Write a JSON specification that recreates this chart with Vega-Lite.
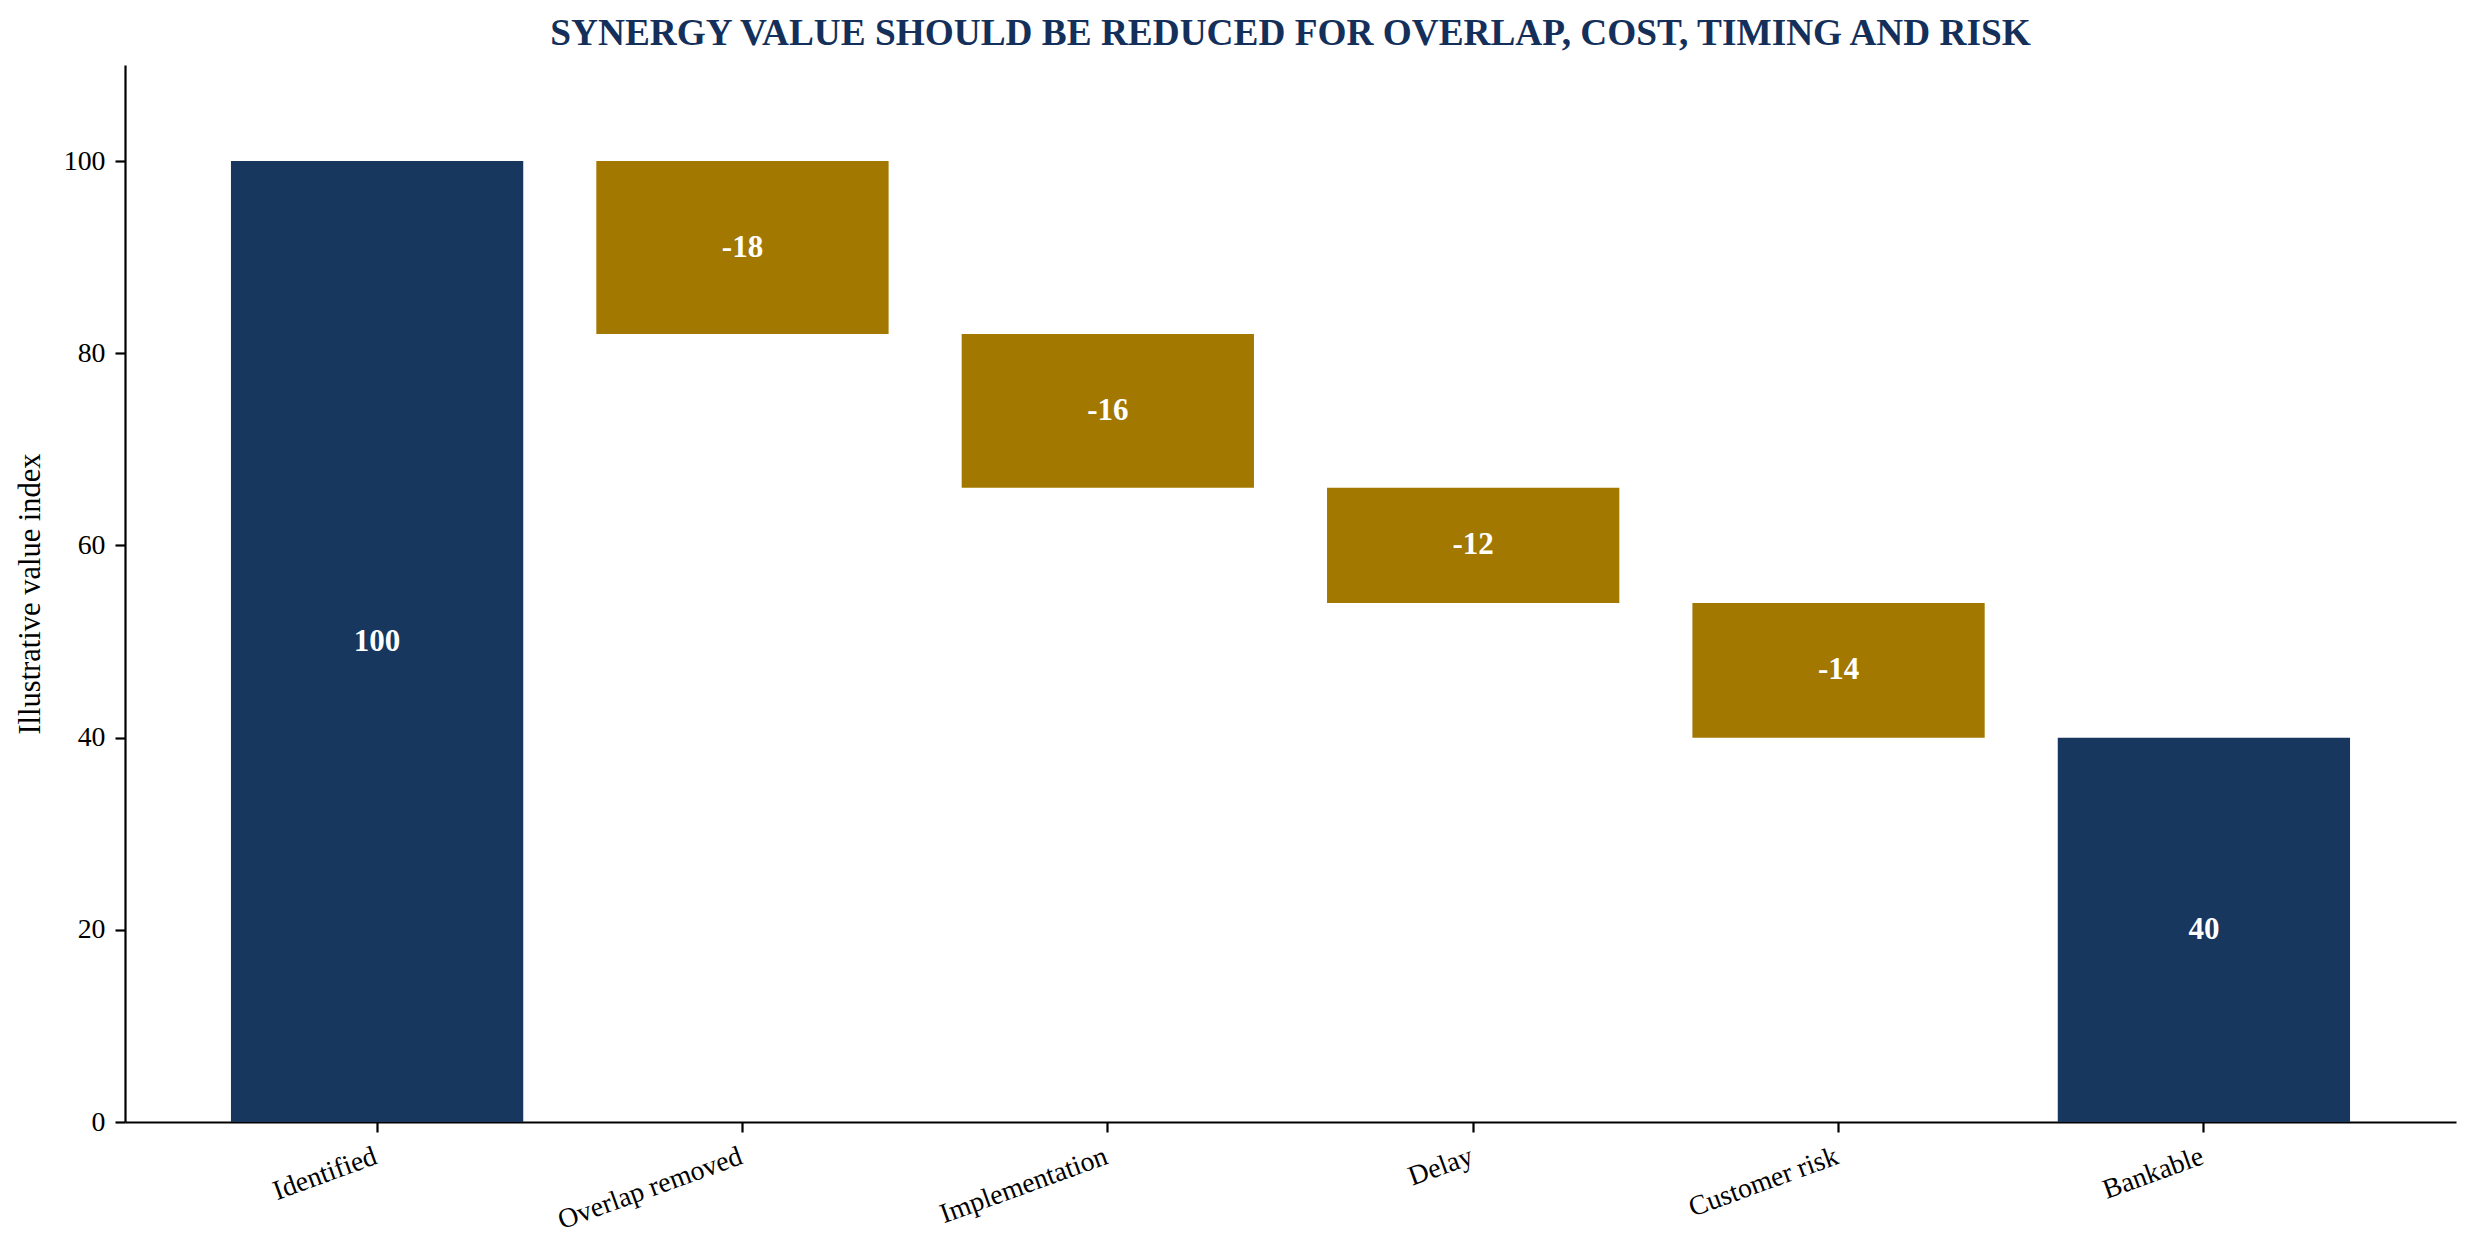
{
  "$schema": "https://vega.github.io/schema/vega-lite/v6.json",
  "width": 2331,
  "height": 1057,
  "autosize": {"type": "none"},
  "padding": {"left": 125, "top": 65, "right": 25, "bottom": 128},
  "background": "white",
  "title": {
    "text": "SYNERGY VALUE SHOULD BE REDUCED FOR OVERLAP, COST, TIMING AND RISK",
    "font": "Liberation Serif",
    "fontSize": 37.3,
    "fontWeight": "bold",
    "color": "#14305A",
    "anchor": "middle",
    "offset": 12
  },
  "data": {
    "values": [
      {"stage": "Identified", "kind": "total", "value": 100, "start": 0, "end": 100},
      {"stage": "Overlap removed", "kind": "change", "value": -18, "start": 100, "end": 82},
      {"stage": "Implementation", "kind": "change", "value": -16, "start": 82, "end": 66},
      {"stage": "Delay", "kind": "change", "value": -12, "start": 66, "end": 54},
      {"stage": "Customer risk", "kind": "change", "value": -14, "start": 54, "end": 40},
      {"stage": "Bankable", "kind": "total", "value": 40, "start": 0, "end": 40}
    ]
  },
  "config": {
    "view": {"stroke": null},
    "font": "Liberation Serif",
    "axis": {
      "grid": false,
      "domainColor": "black",
      "domainWidth": 2.2,
      "tickColor": "black",
      "tickWidth": 2.2,
      "tickSize": 10,
      "labelPadding": 10,
      "labelLimit": 0,
      "labelFont": "Liberation Serif",
      "labelFontSize": 27.8,
      "labelColor": "black",
      "titleFont": "Liberation Serif",
      "titleFontSize": 30.5,
      "titleFontWeight": "normal",
      "titleColor": "black"
    }
  },
  "encoding": {
    "x": {
      "field": "stage",
      "type": "nominal",
      "sort": null,
      "title": null,
      "scale": {"paddingInner": 0.2, "paddingOuter": 0.29},
      "axis": {"labelAngle": -20, "labelAlign": "right", "labelBaseline": "top", "labelOffset": -6}
    }
  },
  "layer": [
    {
      "mark": {"type": "bar"},
      "encoding": {
        "y": {
          "field": "start",
          "type": "quantitative",
          "title": "Illustrative value index",
          "scale": {"domain": [0, 110], "nice": false},
          "axis": {"values": [0, 20, 40, 60, 80, 100], "titlePadding": 18}
        },
        "y2": {"field": "end"},
        "color": {
          "field": "kind",
          "type": "nominal",
          "scale": {"domain": ["total", "change"], "range": ["#17375E", "#A37800"]},
          "legend": null
        }
      }
    },
    {
      "transform": [
        {"calculate": "(datum.start + datum.end) / 2", "as": "mid"},
        {"calculate": "toString(datum.value)", "as": "label"}
      ],
      "mark": {
        "type": "text",
        "font": "Liberation Serif",
        "fontSize": 31,
        "fontWeight": "bold",
        "color": "white",
        "baseline": "middle",
        "align": "center"
      },
      "encoding": {
        "y": {"field": "mid", "type": "quantitative"},
        "text": {"field": "label", "type": "nominal"}
      }
    }
  ]
}
